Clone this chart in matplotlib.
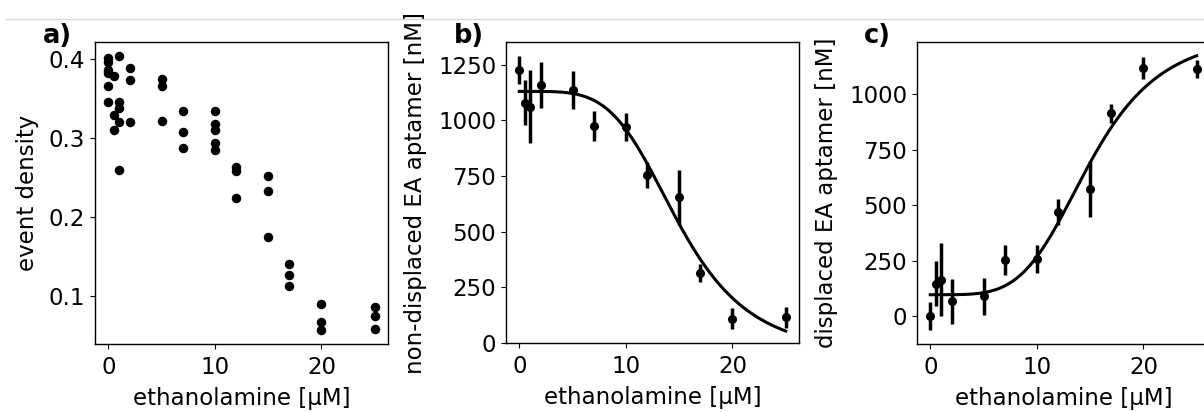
import numpy as np
import matplotlib
matplotlib.use('Agg')
import matplotlib.pyplot as plt
from matplotlib.lines import Line2D

# panel a: event density, replicate points per concentration
a_x = [0, 0, 0, 0, 0, 0,
       0.5, 0.5, 0.5,
       1, 1, 1, 1, 1,
       2, 2, 2,
       5, 5, 5,
       7, 7, 7,
       10, 10, 10, 10, 10,
       12, 12, 12,
       15, 15, 15,
       17, 17, 17,
       20, 20, 20,
       25, 25, 25]
a_y = [0.401, 0.396, 0.386, 0.382, 0.365, 0.345,
       0.378, 0.329, 0.310,
       0.404, 0.345, 0.338, 0.320, 0.259,
       0.388, 0.373, 0.320,
       0.375, 0.366, 0.321,
       0.334, 0.307, 0.287,
       0.334, 0.318, 0.310, 0.293, 0.284,
       0.263, 0.258, 0.224,
       0.252, 0.233, 0.174,
       0.140, 0.126, 0.112,
       0.089, 0.066, 0.056,
       0.085, 0.074, 0.057]

# panels b and c: mean +/- error
conc = [0, 0.5, 1, 2, 5, 7, 10, 12, 15, 17, 20, 25]
nondisp = [1226, 1080, 1062, 1160, 1137, 975, 971, 756, 654, 313, 110, 116]
nondisp_err = [64, 103, 165, 103, 84, 68, 63, 58, 123, 40, 49, 47]
disp = [0, 146, 164, 66, 89, 251, 257, 470, 572, 913, 1116, 1111]
disp_err = [64, 102, 165, 103, 84, 68, 63, 58, 124, 42, 50, 40]

# fitted Hill curve parameters
fit_K = 15.0
fit_n = 4.4
b_top, b_bottom = 1130, -60
c_bottom, c_top = 96, 1286

plt.rcParams['font.size'] = 16.5
plt.rcParams['axes.linewidth'] = 1.0

fig = plt.figure(figsize=(12.04, 4.12), dpi=100)
W, H = 1204, 412
def box(left, right, top, bottom):
    return [left / W, 1 - bottom / H, (right - left) / W, (bottom - top) / H]

ax_a = fig.add_axes(box(95, 388, 42, 344))
ax_b = fig.add_axes(box(506, 799, 42, 343))
ax_c = fig.add_axes(box(917, 1210, 42, 344))

ax_a.scatter(a_x, a_y, color='black', s=34)
ax_a.set_ylabel('event density', labelpad=7)
ax_a.set_yticks([0.1, 0.2, 0.3, 0.4])

xf = np.linspace(0, 25, 300)
hill = (xf / fit_K) ** fit_n / (1 + (xf / fit_K) ** fit_n)

ax_b.errorbar(conc, nondisp, yerr=nondisp_err, fmt='o', color='black',
              ms=5.5, elinewidth=2.5, capsize=0)
ax_b.plot(xf, b_top - (b_top - b_bottom) * hill, color='black', lw=2.2)
ax_b.set_ylabel('non-displaced EA aptamer [nM]', labelpad=8)
ax_b.set_yticks([0, 250, 500, 750, 1000, 1250])
ax_b.set_ylim(bottom=0)

ax_c.errorbar(conc, disp, yerr=disp_err, fmt='o', color='black',
              ms=5.5, elinewidth=2.5, capsize=0)
ax_c.plot(xf, c_bottom + (c_top - c_bottom) * hill, color='black', lw=2.2)
ax_c.set_ylabel('displaced EA aptamer [nM]', labelpad=8)
ax_c.set_yticks([0, 250, 500, 750, 1000])

for ax in (ax_a, ax_b, ax_c):
    ax.set_xlabel('ethanolamine [µM]', labelpad=6)
    ax.set_xticks([0, 10, 20])
    ax.set_xlim(-1.25, 26.25)
    ax.tick_params(axis='x', pad=5)

for lbl, xp in (('a)', 43), ('b)', 454), ('c)', 864)):
    fig.text(xp / W, 1 - 43 / H, lbl, fontsize=18.5, fontweight='bold',
             va='baseline')

fig.add_artist(Line2D([6 / W, 1], [1 - 19 / H, 1 - 19 / H],
                      color='#d9d9d9', lw=1))

fig.savefig('out.png', dpi=100)
